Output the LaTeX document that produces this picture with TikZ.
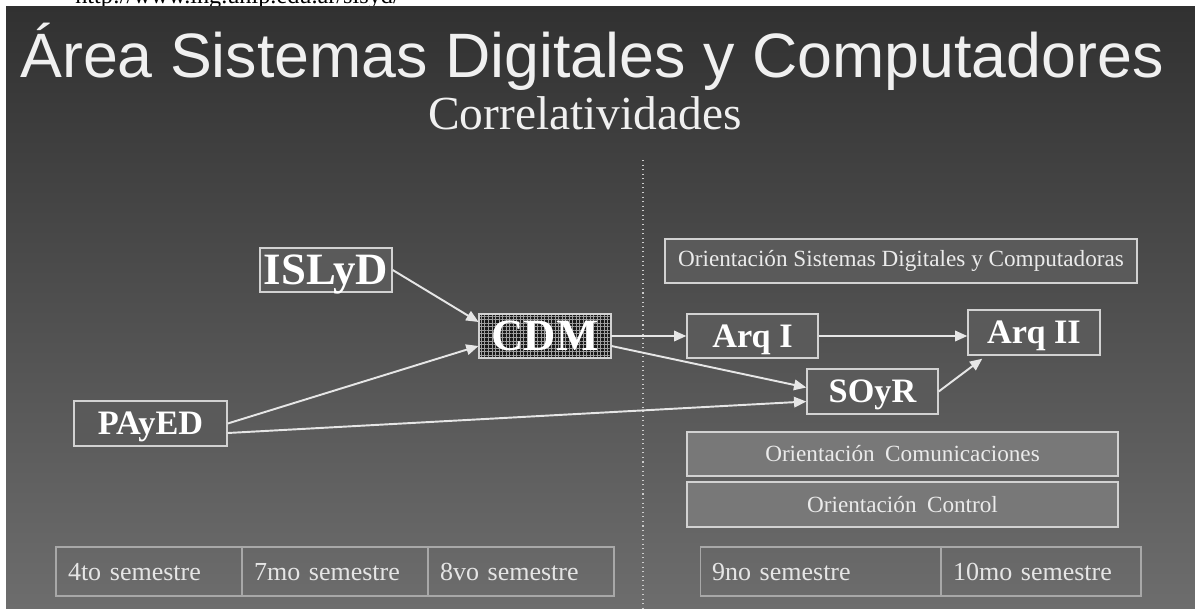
\documentclass[tikz,border=0pt]{standalone}
\usepackage{fontspec}
\setmainfont{Liberation Serif}
\setsansfont{Liberation Sans}
\usetikzlibrary{arrows.meta,calc,patterns.meta}

\definecolor{slidetop}{HTML}{313131}
\definecolor{slidemid}{HTML}{474747}
\definecolor{slidebot}{HTML}{6d6d6d}
\definecolor{boxfill}{HTML}{5a5a5a}
\definecolor{orfill}{HTML}{787878}
\definecolor{boxline}{HTML}{D2D2D2}
\definecolor{semline}{HTML}{A8A8A8}
\definecolor{edge}{HTML}{E6E6E6}
\definecolor{titlegray}{HTML}{F0F0F0}

\tikzset{
  course/.style={draw=boxline,line width=0.8pt,fill=boxfill,text=white,inner sep=0pt,text depth=0pt,
    font=\fontsize{19.5}{22}\selectfont\bfseries},
  bigcourse/.style={course,font=\fontsize{25.5}{28}\selectfont\bfseries},
  orient/.style={draw=boxline,line width=0.8pt,fill=boxfill,text=white!92!black,inner sep=0pt,
    font=\fontsize{13.2}{15}\selectfont},
  sem/.style={draw=semline,line width=0.6pt,text=white!90!black,inner xsep=0.24cm,inner ysep=0pt,
    text height=10pt,text depth=0pt,minimum height=0.98cm,align=left,font=\fontsize{14.8}{17}\selectfont},
  boxsize/.style 2 args={minimum width=#1*0.02cm,minimum height=#2*0.02cm},
  req/.style={-{Triangle[length=7pt,width=6pt]},line width=1.1pt,draw=edge},
}

\begin{document}
\begin{tikzpicture}[x=0.02cm,y=-0.02cm]
  \useasboundingbox (0,0) rectangle (1195,608);
  \begin{scope}
    \clip (0,0) rectangle (1195,608);
    \node[anchor=base west,inner sep=0pt,font=\fontsize{13.8}{16}\selectfont] (url) at (75,4)
      {http://www.ing.unlp.edu.ar/sisyd/};
  \end{scope}
  \shade[top color=slidetop,middle color=slidemid,bottom color=slidebot] (6,7) rectangle (1195,608);

  % titulo
  \node[anchor=base,text=titlegray,font=\sffamily\fontsize{35.7}{40}\selectfont] (titulo) at (592,77)
    {Área Sistemas Digitales y Computadores};
  \node[anchor=base,text=titlegray,font=\fontsize{27}{30}\selectfont] (subtitulo) at (585,129)
    {Correlatividades};

  \coordinate (divtop) at (643,160);
  \coordinate (divbot) at (643,608);
  \draw[dotted,line width=0.6pt,white!80!black] (divtop) -- (divbot);

  % materias
  \node[bigcourse,boxsize={132}{44}] (islyd) at (326,270) {ISLyD};
  \node[bigcourse,boxsize={132}{44},preaction={fill=black!90},
    pattern={Hatch[angle=0,distance=2pt,line width=0.5pt]},pattern color=gray!75] (cdm) at (545,336) {CDM};
  \node[course,boxsize={153}{45}] (payed) at (150.5,423.5) {PAyED};
  \node[course,boxsize={131}{44}] (arqi) at (752.5,336) {Arq I};
  \node[course,boxsize={132}{45}] (arqii) at (1034,332.5) {Arq II};
  \node[course,boxsize={131}{45}] (soyr) at (872.5,391.5) {SOyR};

  % orientaciones
  \node[orient,boxsize={472}{44}] (orsdc) at (901,261) {Orientación Sistemas Digitales y Computadoras};
  \node[orient,fill=orfill,boxsize={431}{44}] (orcom) at (902.5,454) {Orientación\hspace{0.45em}Comunicaciones};
  \node[orient,fill=orfill,boxsize={431}{45}] (orctl) at (902.5,504.5) {Orientación\hspace{0.45em}Control};

  % semestres
  \node[sem,text width=3.24cm] (s4) at (149,571.5) {4to semestre};
  \node[sem,text width=3.24cm] (s7) at (335,571.5) {7mo semestre};
  \node[sem,text width=3.24cm] (s8) at (521,571.5) {8vo semestre};
  \node[sem,text width=4.34cm] (s9) at (820.5,571.5) {9no semestre};
  \node[sem,text width=3.52cm] (s10) at (1041,571.5) {10mo semestre};

  % correlatividades
  \draw[req] (islyd.east) -- ($(cdm.west)+(0,-14)$);
  \draw[req] (payed.east) -- ($(cdm.west)+(0,10)$);
  \draw[req] ($(payed.east)+(0,9.5)$) -- ($(soyr.west)+(0,10)$);
  \draw[req] (cdm.east) -- (arqi.west);
  \draw[req] ($(cdm.east)+(0,10)$) -- ($(soyr.west)+(0,-4)$);
  \draw[req] (arqi.east) -- (arqi.east -| arqii.west);
  \draw[req] (soyr.east) -- ($(arqii.south west)+(15,3)$);
\end{tikzpicture}
\end{document}
